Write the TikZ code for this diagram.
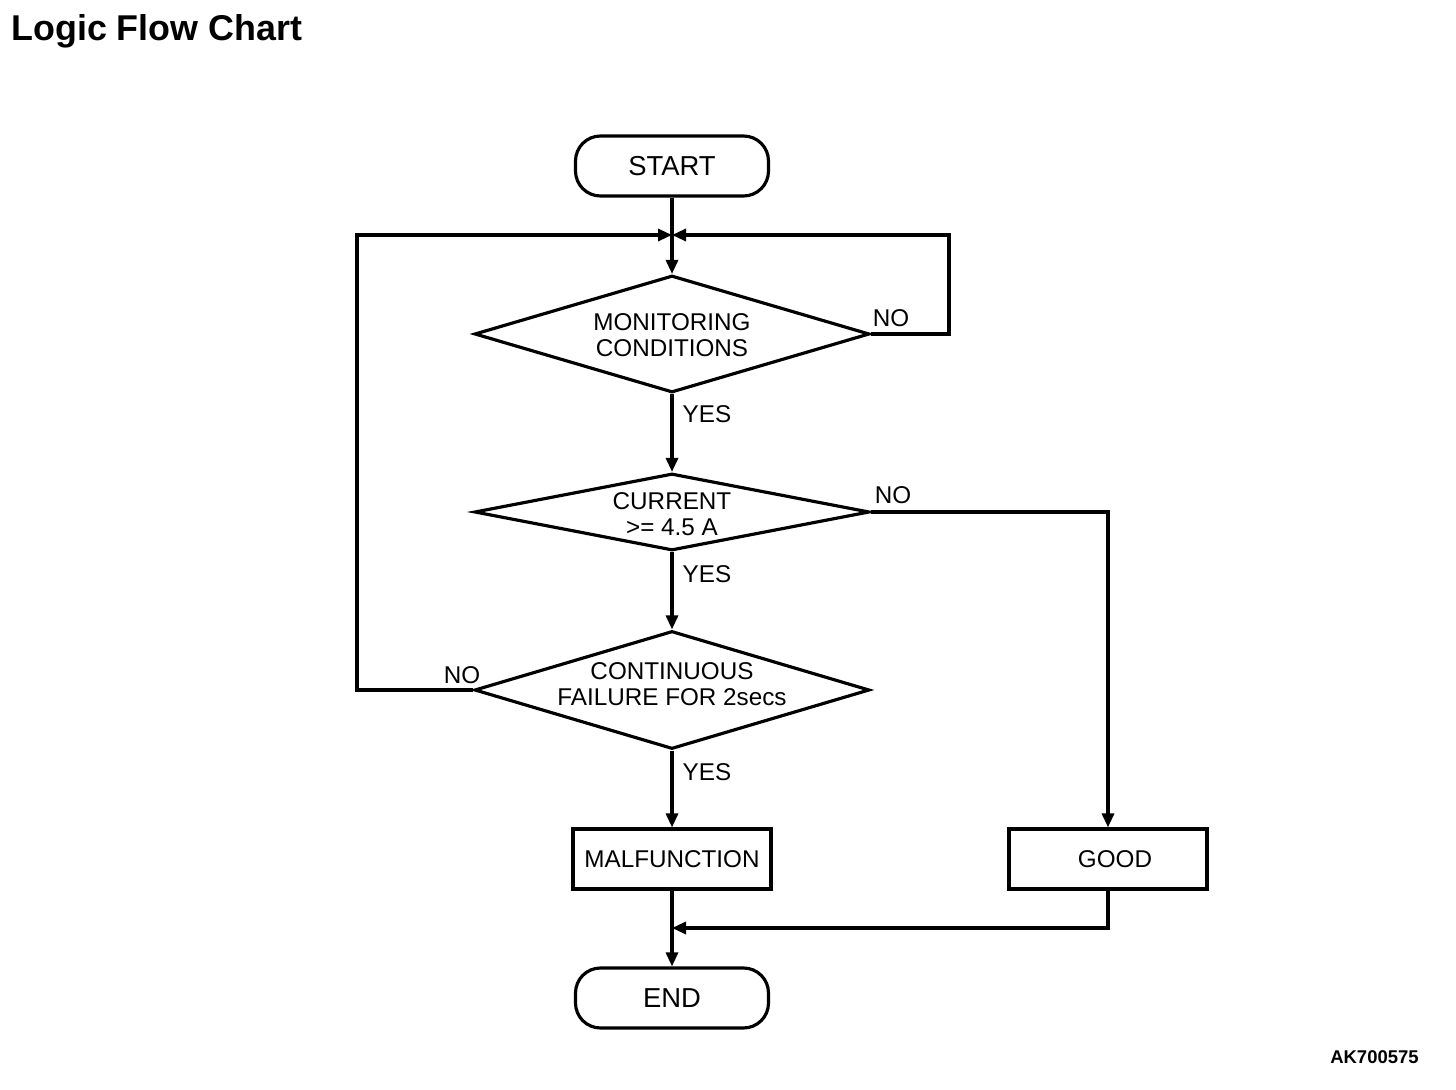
\documentclass[tikz,border=0pt]{standalone}
\usepackage{fontspec}
\setmainfont{Liberation Sans}
\usetikzlibrary{shapes.geometric,arrows.meta}
\newcommand{\chartfont}{\fontsize{13.8pt}{14.8pt}\selectfont}
\newcommand{\termfont}{\fontsize{15.6pt}{17pt}\selectfont}

\begin{document}
\begin{tikzpicture}[line width=1.8pt,
    term/.style={draw, rounded corners=0.5cm, minimum width=3.86cm, minimum height=1.2cm, font=\termfont},
    proc/.style={draw, minimum width=3.96cm, minimum height=1.2cm, font=\chartfont},
    decision/.style={draw, diamond, inner sep=0pt, minimum width=7.9cm},
    ann/.style={font=\chartfont, inner sep=0pt},
    flow/.style={-{Triangle[length=0.28cm,width=0.24cm]}}]
    \useasboundingbox (0,0) rectangle (29.12,-21.8);

    \node[anchor=west, font=\fontsize{20.4pt}{24pt}\selectfont\bfseries] (title) at (0.08,-0.62) {Logic Flow Chart};
    \node[anchor=east, font=\fontsize{10.5pt}{12pt}\selectfont\bfseries] (code) at (28.52,-21.14) {AK700575};

    \node[term] (start) at (13.44,-3.32) {START};
    \coordinate (join) at (13.44,-4.7);

    \node[decision, minimum height=2.34cm] (mon) at (13.44,-6.68) {};
    \node[ann, align=center] (mon-t) at (13.44,-6.7) {MONITORING\\CONDITIONS};

    \node[decision, minimum height=1.54cm] (cur) at (13.44,-10.24) {};
    \node[ann, align=center] (cur-t) at (13.44,-10.29) {CURRENT\\>= 4.5 A};

    \node[decision, minimum height=2.36cm] (cont) at (13.44,-13.8) {};
    \node[ann, align=center] (cont-t) at (13.44,-13.68) {CONTINUOUS\\FAILURE FOR 2secs};

    \node[proc] (malf) at (13.44,-17.18) {MALFUNCTION};
    \node[proc, text width=3.6cm, align=center] (good) at (22.16,-17.18) {\hspace*{0.28cm}GOOD};
    \coordinate (merge) at (13.44,-18.56);
    \node[term] (end) at (13.44,-19.96) {END};

    % main line
    \draw[flow] (start.south) -- (mon.north);
    \draw[flow] (mon.south) -- (cur.north);
    \draw[flow] (cur.south) -- (cont.north);
    \draw[flow] (cont.south) -- (malf.north);
    \draw[flow] (malf.south) -- (end.north);

    % loops back
    \draw[flow] (mon.east) -- (18.98,-6.68) |- (join);
    \draw[flow] (cont.west) -- (7.14,-13.8) |- (join);
    \draw[flow] (cur.east) -| (good.north);
    \draw[flow] (good.south) |- (merge);

    \node[ann] (yes1) at (14.14,-8.28) {YES};
    \node[ann] (yes2) at (14.14,-11.48) {YES};
    \node[ann] (yes3) at (14.14,-15.44) {YES};
    \node[ann] (no1) at (17.82,-6.36) {NO};
    \node[ann] (no2) at (17.86,-9.9) {NO};
    \node[ann] (no3) at (9.24,-13.5) {NO};
\end{tikzpicture}
\end{document}
